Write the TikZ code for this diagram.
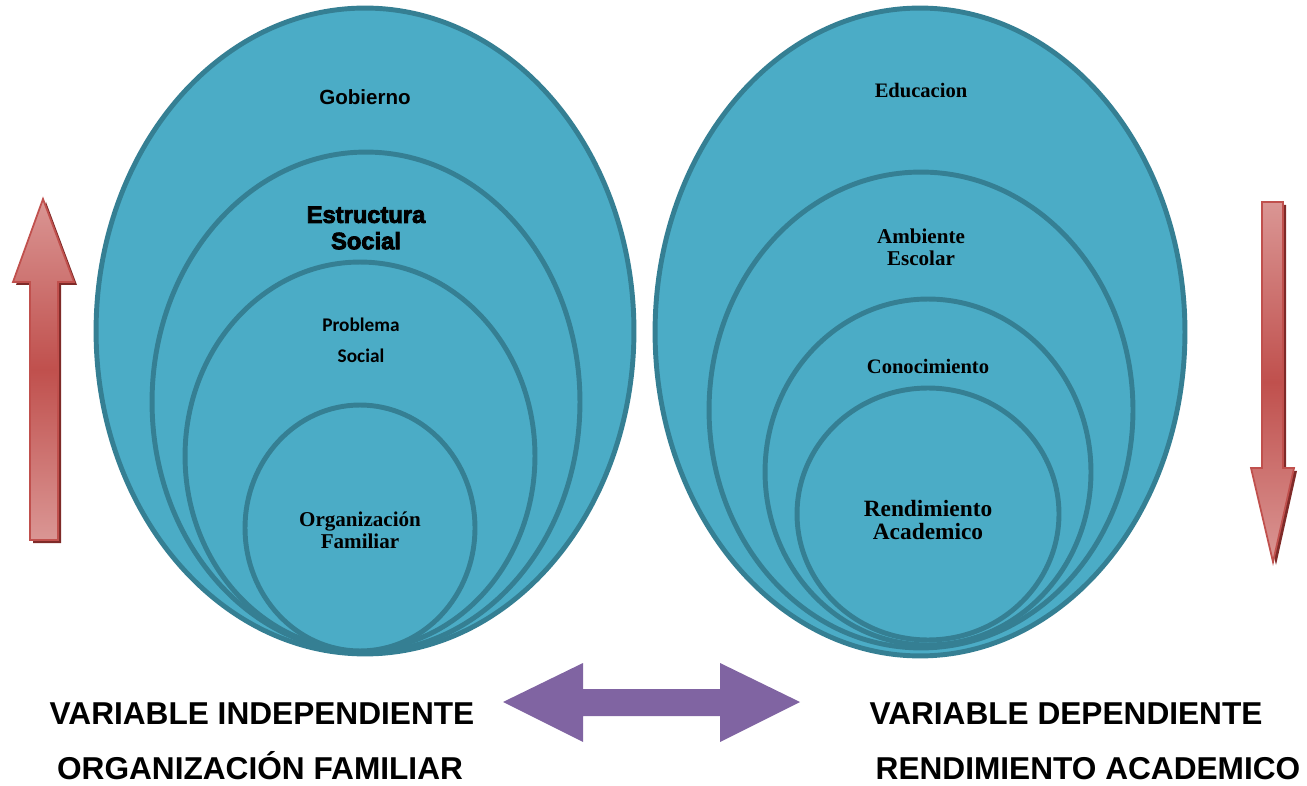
\documentclass[tikz,border=0pt]{standalone}
\usepackage{fontspec}
\setmainfont{Liberation Serif}
\newfontfamily\arialf{Liberation Sans}
\newfontfamily\calf{Carlito}
\newfontfamily\heavyf[BoldFeatures={FakeBold=3.5}]{Liberation Sans}
\usetikzlibrary{shapes.geometric}
\definecolor{blobfill}{HTML}{4BACC6}
\definecolor{blobline}{HTML}{357F93}
\definecolor{arrowred}{HTML}{C0504D}
\definecolor{arrowlight}{HTML}{DA9694}
\definecolor{arrowshadow}{HTML}{7F2A28}
\definecolor{purplearrow}{HTML}{8064A2}
\begin{document}
\begin{tikzpicture}[x=0.02cm,y=-0.02cm,
  blob/.style={ellipse, fill=blobfill, draw=blobline, line width=2.8pt, inner sep=0pt},
  serlab/.style={font=\bfseries\fontsize{12}{12.5}\selectfont, align=center, text=black},
  bottomlab/.style={font=\arialf\bfseries\fontsize{18}{20}\selectfont, anchor=base, text=black},
  redarrow/.style={top color=arrowlight, bottom color=arrowlight, middle color=arrowred, draw=arrowred, line width=1pt},
  redshadow/.style={fill=arrowshadow}
]
\useasboundingbox (0,0) rectangle (1307,786);

% left nested ellipses
\node[blob, minimum width=10.76cm, minimum height=12.92cm] (L1) at (365,331) {};
\node[blob, minimum width=8.56cm, minimum height=10.0cm] (L2) at (366,402) {};
\node[blob, minimum width=7.0cm, minimum height=7.76cm] (L3) at (360,456) {};
\node[blob, minimum width=4.6cm, minimum height=4.92cm] (L4) at (360,528) {};

% right nested ellipses
\node[blob, minimum width=10.6cm, minimum height=12.96cm] (R1) at (920,332) {};
\node[blob, minimum width=8.48cm, minimum height=9.52cm] (R2) at (921,410) {};
\node[blob, minimum width=6.52cm, minimum height=6.92cm] (R3) at (928,472) {};
\node[blob, minimum width=5.24cm, minimum height=5.04cm] (R4) at (928,514) {};

% labels inside
\node[font=\arialf\bfseries\fontsize{11.7}{13}\selectfont] (gob) at (365,97) {Gobierno};
\node[font=\heavyf\bfseries\fontsize{13.5}{15}\selectfont, align=center] (est) at (366,228) {Estructura\\Social};
\node[font=\calf\bfseries\fontsize{11}{17.5}\selectfont, align=center] (prob) at (361,340) {Problema\\Social};
\node[serlab] (org) at (360,530) {Organización\\Familiar};

\node[serlab, font=\bfseries\fontsize{11.7}{12.5}\selectfont] (edu) at (921,91) {Educacion};
\node[serlab] (amb) at (921,247) {Ambiente\\Escolar};
\node[serlab, font=\bfseries\fontsize{11.7}{12.5}\selectfont] (con) at (928,366) {Conocimiento};
\node[serlab, font=\bfseries\fontsize{13.3}{13}\selectfont] (ren) at (928,520) {Rendimiento\\Academico};

% red arrows
\fill[redshadow, shift={(3,3)}] (43,199) -- (74,282) -- (58,282) -- (58,540) -- (30,540) -- (30,282) -- (13,282) -- cycle;
\path[redarrow] (43,199) -- (74,282) -- (58,282) -- (58,540) -- (30,540) -- (30,282) -- (13,282) -- cycle;

\fill[redshadow, shift={(3,3)}] (1262,202) -- (1283,202) -- (1283,468) -- (1294,468) -- (1273,562) -- (1251,468) -- (1262,468) -- cycle;
\path[redarrow] (1262,202) -- (1283,202) -- (1283,468) -- (1294,468) -- (1273,562) -- (1251,468) -- (1262,468) -- cycle;

% purple double arrow
\fill[purplearrow] (503,702) -- (583,663) -- (583,689) -- (720,689) -- (720,663) -- (800,702) -- (720,742) -- (720,716) -- (583,716) -- (583,742) -- cycle;

% bottom labels
\node[bottomlab] (vi) at (262,724) {VARIABLE INDEPENDIENTE};
\node[bottomlab] (vio) at (260,779) {ORGANIZACIÓN FAMILIAR};
\node[bottomlab] (vd) at (1066,724) {VARIABLE DEPENDIENTE};
\node[bottomlab] (vdr) at (1088,779) {RENDIMIENTO ACADEMICO};
\end{tikzpicture}
\end{document}
